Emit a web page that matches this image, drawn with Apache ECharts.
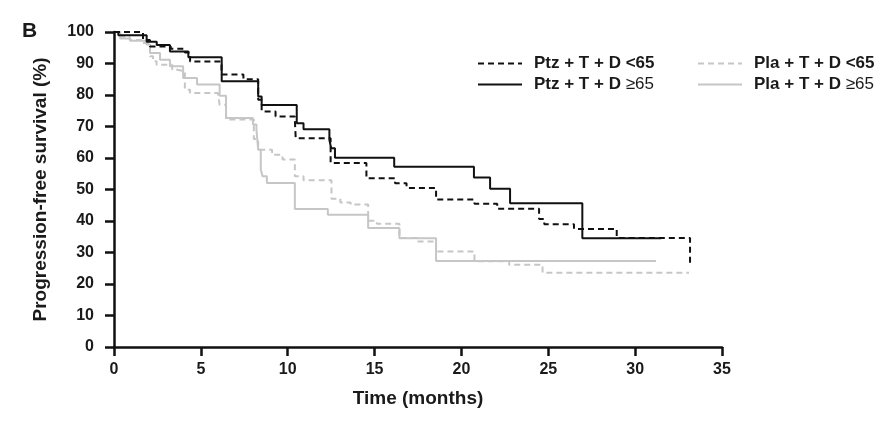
<!DOCTYPE html>
<html><head><meta charset="utf-8">
<script src="https://cdn.jsdelivr.net/npm/echarts@6/dist/echarts.min.js"></script>
<style>html,body{margin:0;padding:0;background:#fff}#c{width:882px;height:433px}</style>
</head><body><div id="c"></div>
<script>
// ---- data ----
const xTicks = [0, 5, 10, 15, 20, 25, 30, 35];
const yTicks = [0, 10, 20, 30, 40, 50, 60, 70, 80, 90, 100];
const seriesNames = ['Ptz + T + D <65', 'Ptz + T + D ≥65', 'Pla + T + D <65', 'Pla + T + D ≥65'];

const ptzLt65_t = [0, 1.67, 2.07, 3.27, 4.08, 4.38, 6.19, 7.45, 8.3, 8.5, 9.3, 10.41, 10.46, 12.47, 14.53, 16.18, 16.84, 18.54, 20.75, 22.06, 24.47, 24.77, 26.48, 28.94, 33.16];
const ptzLt65_v = [100, 97.5, 95.4, 94.7, 93.5, 90.6, 86.5, 85.0, 78.5, 74.8, 73.2, 72.2, 66.3, 58.4, 53.6, 52.0, 50.5, 46.8, 45.5, 43.9, 40.6, 39.0, 37.5, 34.6, 25.6];

const ptzGe65_t = [0, 0.25, 1.88, 2.46, 3.22, 4.28, 6.2, 8.3, 8.5, 10.52, 10.91, 12.4, 12.5, 12.72, 16.13, 20.72, 21.65, 22.8, 26.96, 31.5];
const ptzGe65_v = [100, 99, 96.9, 95.9, 93.8, 92.0, 84.4, 79.5, 76.8, 71.0, 69.1, 65.7, 63.1, 60.1, 57.2, 53.8, 50.2, 45.6, 34.5, 34.5];

const plaLt65_t = [0, 0.3, 0.9, 1.6, 2.07, 2.25, 2.45, 3.35, 3.65, 4.08, 4.38, 5.98, 6.08, 6.45, 8.05, 8.3, 9.1, 9.7, 10.41, 10.91, 12.52, 13.03, 13.62, 14.63, 15.13, 16.43, 17.43, 18.54, 20.75, 22.75, 24.67, 33.1];
const plaLt65_v = [100, 98.5, 97.5, 96.5, 92.3, 90.7, 89.6, 88.0, 87.5, 81.7, 80.6, 80.1, 76.9, 72.2, 66.0, 62.6, 61.0, 59.5, 54.2, 52.9, 47.1, 45.9, 45.2, 40.1, 39.1, 34.6, 33.5, 30.3, 27.2, 26.1, 23.6, 23.6];

const plaGe65_t = [0, 0.36, 0.92, 1.88, 2.07, 2.65, 3.22, 3.98, 4.78, 6.08, 6.45, 8.0, 8.2, 8.3, 8.45, 8.55, 8.8, 10.41, 12.31, 14.63, 16.43, 18.54, 31.2];
const plaGe65_v = [100, 97.9, 97.2, 96.0, 93.3, 91.2, 89.1, 85.4, 83.3, 79.8, 72.7, 70.6, 69.0, 62.6, 56.3, 54.2, 52.1, 43.8, 42.0, 37.8, 34.5, 27.3, 27.3];

// ---- chart ----
const zip = (t, v) => t.map((x, i) => [x, v[i]]);
const FONT = '"Liberation Sans", Arial, Helvetica, sans-serif';
const TXT = '#1a1a1a';
const BLACK = '#111111';
const GRAY = '#c6c6c6';

function mk(name, t, v, color, dashed, z) {
  return {
    name, type: 'line', step: 'end', symbol: 'none', z,
    data: zip(t, v),
    itemStyle: { color },
    lineStyle: { color, width: 2, type: dashed ? [6, 4] : 'solid' },
    emphasis: { disabled: true },
    animation: false
  };
}

const legendCommon = {
  orient: 'vertical', top: 50, itemWidth: 44, itemHeight: 14, itemGap: 4,
  selectedMode: false,
  itemStyle: { opacity: 0, borderWidth: 0 },
  textStyle: {
    fontFamily: FONT, fontSize: 17, fontWeight: 'bold', color: TXT, padding: [0, 0, 0, 7],
    rich: { n: { fontFamily: FONT, fontSize: 17, fontWeight: 'normal', color: TXT } }
  },
  formatter: n => n.replace('≥65', '{n|≥65}')
};

const chart = echarts.init(document.getElementById('c'), null, { renderer: 'canvas' });
chart.setOption({
  animation: false,
  backgroundColor: '#fff',
  title: { text: 'B', left: 17, top: 16, textStyle: { fontFamily: FONT, fontSize: 21, fontWeight: 'bold', color: TXT } },
  grid: { left: 114, right: 160, top: 32, bottom: 86, containLabel: false },
  legend: [
    Object.assign({ left: 472, data: [seriesNames[0], seriesNames[1]] }, legendCommon),
    Object.assign({ left: 692, data: [seriesNames[2], seriesNames[3]] }, legendCommon)
  ],
  xAxis: {
    type: 'value', min: xTicks[0], max: xTicks[xTicks.length - 1], interval: 5,
    name: 'Time (months)', nameLocation: 'middle', nameGap: 42,
    nameTextStyle: { fontFamily: FONT, fontSize: 19, fontWeight: 'bold', color: TXT },
    axisLine: { lineStyle: { color: BLACK, width: 2.5 } },
    axisTick: { length: 9, lineStyle: { color: BLACK, width: 2.5 } },
    axisLabel: { fontFamily: FONT, fontSize: 16, fontWeight: 'bold', color: TXT, margin: 15 },
    splitLine: { show: false }
  },
  yAxis: {
    type: 'value', min: yTicks[0], max: yTicks[yTicks.length - 1], interval: 10,
    name: 'Progression-free survival (%)', nameLocation: 'middle', nameGap: 64,
    nameTextStyle: { fontFamily: FONT, fontSize: 19, fontWeight: 'bold', color: TXT },
    axisLine: { show: true, lineStyle: { color: BLACK, width: 2.5 } },
    axisTick: { show: true, length: 9, lineStyle: { color: BLACK, width: 2.5 } },
    axisLabel: { fontFamily: FONT, fontSize: 16, fontWeight: 'bold', color: TXT, margin: 20 },
    splitLine: { show: false }
  },
  series: [
    mk(seriesNames[2], plaLt65_t, plaLt65_v, GRAY, true, 2),
    mk(seriesNames[3], plaGe65_t, plaGe65_v, GRAY, false, 2),
    mk(seriesNames[0], ptzLt65_t, ptzLt65_v, BLACK, true, 3),
    mk(seriesNames[1], ptzGe65_t, ptzGe65_v, BLACK, false, 3)
  ]
});
</script>
</body></html>
